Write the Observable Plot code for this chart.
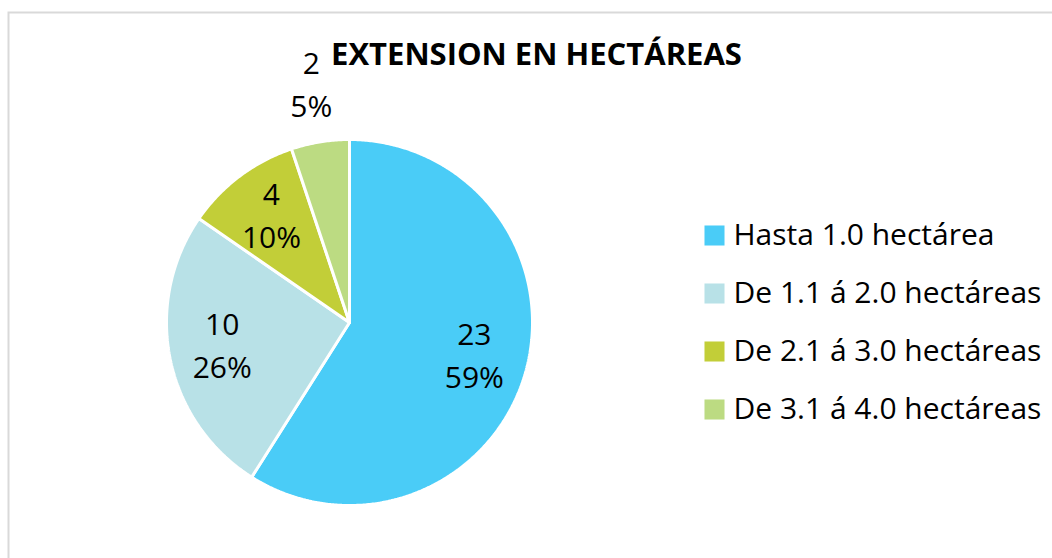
<!DOCTYPE html>
<html>
<head>
<meta charset="utf-8">
<script src="https://cdn.jsdelivr.net/npm/d3@7"></script>
<script src="https://cdn.jsdelivr.net/npm/@observablehq/plot@0.6"></script>
<style>
  html, body { margin: 0; padding: 0; background: #fff; }
  #chart svg { display: block; }
</style>
</head>
<body>
<div id="chart"></div>
<script>
const title = "EXTENSION EN HECTÁREAS";
const categories = ["Hasta 1.0 hectárea", "De 1.1 á 2.0 hectáreas", "De 2.1 á 3.0 hectáreas", "De 3.1 á 4.0 hectáreas"];
const counts = [23, 10, 4, 2];
const colors = ["#4ACCF7", "#B8E1E7", "#C2CE38", "#BCDB82"];

const W = 1052, H = 558;
const cx = 349, cy = 322, R = 183;
const FONT = "'Open Sans', 'Noto Sans', sans-serif";

const total = d3.sum(counts);
const rows = categories.map((c, i) => ({category: c, value: counts[i], pct: Math.round(counts[i] / total * 100) + "%"}));
const arcs = d3.pie().sort(null).value(d => d.value)(rows);

// polygon outline for each slice (geometry from pie angles)
const slicePts = [];
arcs.forEach(a => {
  const n = Math.max(2, Math.ceil((a.endAngle - a.startAngle) / (Math.PI / 360)));
  slicePts.push({category: a.data.category, x: cx, y: cy});
  for (let k = 0; k <= n; k++) {
    const t = a.startAngle + (a.endAngle - a.startAngle) * k / n;
    slicePts.push({category: a.data.category, x: cx + R * Math.sin(t), y: cy - R * Math.cos(t)});
  }
  slicePts.push({category: a.data.category, x: cx, y: cy});
});

const labels = arcs.map(a => {
  const mid = (a.startAngle + a.endAngle) / 2;
  const share = a.data.value / total;
  const rr = share > 0.07 ? 0.71 * R : 1.3 * R;
  return {x: cx + rr * Math.sin(mid), y: cy - rr * Math.cos(mid), text: a.data.value + "\n" + a.data.pct};
});

const legend = categories.map((c, i) => ({category: c, x: 714, tx: 733, y: 235 + i * 58}));

const chart = Plot.plot({
  width: W,
  height: H,
  margin: 0,
  x: {domain: [0, W], range: [0, W], axis: null},
  y: {domain: [0, H], range: [0, H], axis: null},
  color: {domain: categories, range: colors},
  style: {fontFamily: FONT, background: "#fff"},
  marks: [
    Plot.frame({stroke: "#d9d9d9", strokeWidth: 2, insetLeft: 8, insetTop: 12, insetRight: -10, insetBottom: -10}),
    Plot.line(slicePts, {x: "x", y: "y", z: "category", fill: "category", stroke: "#fff", strokeWidth: 3, strokeLinejoin: "miter", curve: "linear"}),
    Plot.text(labels, {x: "x", y: "y", text: "text", fontSize: 30, lineHeight: 1.43, fill: "#000", lineAnchor: "middle", dy: -6}),
    Plot.text([title], {x: () => 536, y: () => 55, text: d => d, fontSize: 31, fontWeight: "bold", fill: "#000"}),
    Plot.dot(legend, {x: "x", y: "y", symbol: "square", r: 11.3, fill: "category", stroke: "none"}),
    Plot.text(legend, {x: "tx", y: "y", text: "category", textAnchor: "start", fontSize: 30, fill: "#000"})
  ]
});
document.getElementById("chart").appendChild(chart);
</script>
</body>
</html>
